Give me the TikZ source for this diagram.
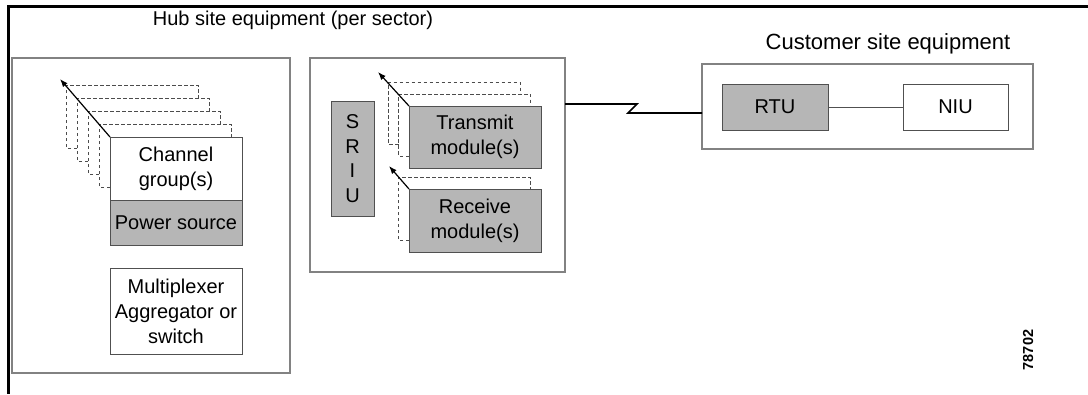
\documentclass[tikz,border=0pt]{standalone}
\usepackage{fontspec}
\setmainfont{Liberation Sans}
\usetikzlibrary{arrows.meta}
\definecolor{boxfill}{RGB}{182,182,182}
\definecolor{frameg}{RGB}{130,130,130}
\definecolor{innerg}{RGB}{80,80,80}
\begin{document}
\begin{tikzpicture}[x=1pt,y=-1pt,
  every node/.style={inner sep=0pt, outer sep=0pt},
  lbl/.style={font=\fontsize{20}{24}\selectfont, align=center},
  group/.style={draw=frameg, line width=1.2pt, anchor=north west},
  wbox/.style={draw=innerg, line width=1pt, fill=white, anchor=north west, font=\fontsize{20}{25}\selectfont, align=center},
  gbox/.style={wbox, fill=boxfill},
  layer/.style={draw=black!70, dashed, dash pattern=on 3.5pt off 2.5pt, line width=0.8pt},
  ptr/.style={-{Latex[length=8pt,width=6pt]}, line width=1.2pt}
]
\useasboundingbox (0,0) rectangle (1088,394);
% outer frame (top and left)
\draw[line width=3pt] (1088,6) -- (8,6) -- (8,394);

% titles
\node[lbl] (hubt) at (293,20) {Hub site equipment (per sector)};
\node[lbl, font=\fontsize{22}{24}\selectfont] (custt) at (888,44) {Customer site equipment};

% group boxes
\node[group, minimum width=278pt, minimum height=315pt] (hubL) at (12,58) {};
\node[group, minimum width=255pt, minimum height=214pt] (hubM) at (310,58) {};
\node[group, minimum width=331pt, minimum height=85pt] (cust) at (702,64) {};

% channel group layers
\foreach \k/\nl/\nt in {4/77/98, 3/88/111, 2/99/124, 1/110/137}{
  \pgfmathsetmacro{\L}{110-11*\k}
  \pgfmathsetmacro{\T}{137-13*\k}
  \pgfmathsetmacro{\R}{242-11*\k}
  \pgfmathsetmacro{\B}{200-13*\k}
  \draw[layer] (\nl,\B) -- (\L,\B) -- (\L,\T) -- (\R,\T) -- (\R,\nt);
}
\node[wbox, minimum width=132pt, minimum height=63pt] (chan) at (110,137) {Channel\\group(s)};
\node[gbox, minimum width=132pt, minimum height=45pt] (pwr) at (110,200) {Power source};
\node[wbox, minimum width=132pt, minimum height=86pt] (mux) at (110,268) {Multiplexer\\Aggregator or\\switch};
\coordinate (chtip) at (60,79);
\draw[ptr] (chan.north west) -- (chtip);

% middle: SRIU
\node[gbox, minimum width=43pt, minimum height=115pt, font=\fontsize{20}{24.5}\selectfont] (sriu) at (331,101) {S\\R\\I\\U};

% transmit layers
\foreach \k/\nl/\nt in {2/398.5/94, 1/409/106}{
  \pgfmathsetmacro{\L}{409-10.5*\k}
  \pgfmathsetmacro{\T}{106-12*\k}
  \pgfmathsetmacro{\R}{541-10.5*\k}
  \pgfmathsetmacro{\B}{168-12*\k}
  \draw[layer] (\nl,\B) -- (\L,\B) -- (\L,\T) -- (\R,\T) -- (\R,\nt);
}
\node[gbox, minimum width=132pt, minimum height=62pt] (tx) at (409,106) {Transmit\\module(s)};
\coordinate (txtip) at (378,72);
\draw[ptr] (tx.north west) -- (txtip);

% receive layer
\draw[layer] (409,240) -- (398,240) -- (398,177) -- (530,177) -- (530,189);
\node[gbox, minimum width=132pt, minimum height=63pt] (rx) at (409,189) {Receive\\module(s)};
\coordinate (rxtip) at (389,166);
\draw[ptr] (rx.north west) -- (rxtip);

% customer site
\node[gbox, minimum width=106pt, minimum height=46pt] (rtu) at (722,84) {RTU};
\node[wbox, minimum width=105pt, minimum height=46pt] (niu) at (903,84) {NIU};
\draw[draw=innerg, line width=1pt] (rtu) -- (niu);

% wireless link
\coordinate (z1) at (637,104);
\coordinate (z2) at (628,113);
\draw[line width=1.6pt, line join=miter] (hubM.east |- z1) -- (z1) -- (z2) -- (cust.west |- z2);

% figure number
\node[rotate=90, font=\fontsize{14.5}{14.5}\selectfont\bfseries] (fig) at (1028,350) {78702};
\end{tikzpicture}
\end{document}
